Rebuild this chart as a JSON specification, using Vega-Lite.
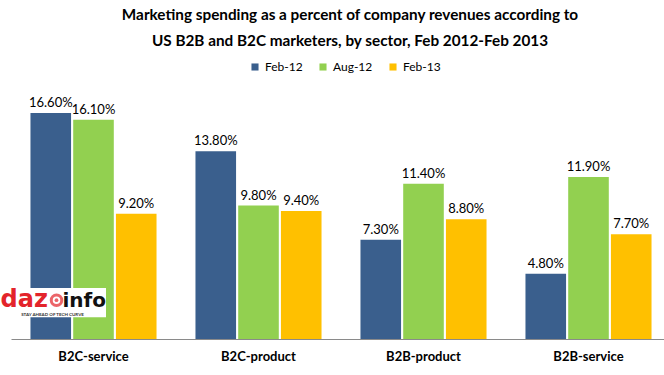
{
  "$schema": "https://vega.github.io/schema/vega-lite/v6.json",
  "autosize": {"type": "none"},
  "width": 660,
  "height": 245,
  "padding": {"left": 11, "top": 94, "right": 0, "bottom": 36},
  "background": "white",
  "config": {
    "view": {"stroke": null},
    "font": "Lato",
    "text": {"font": "Lato"}
  },
  "title": {
    "text": ["Marketing spending as a percent of company revenues according to", "US B2B and B2C marketers, by sector, Feb 2012-Feb 2013"],
    "font": "Lato",
    "fontSize": 15.3,
    "fontWeight": "bold",
    "color": "#000000",
    "anchor": "middle",
    "frame": "group",
    "dx": 9,
    "lineHeight": 26,
    "offset": 12
  },
  "data": {
    "values": [
      {"sector": "B2C-service", "period": "Feb-12", "value": 0.166},
      {"sector": "B2C-service", "period": "Aug-12", "value": 0.161},
      {"sector": "B2C-service", "period": "Feb-13", "value": 0.092},
      {"sector": "B2C-product", "period": "Feb-12", "value": 0.138},
      {"sector": "B2C-product", "period": "Aug-12", "value": 0.098},
      {"sector": "B2C-product", "period": "Feb-13", "value": 0.094},
      {"sector": "B2B-product", "period": "Feb-12", "value": 0.073},
      {"sector": "B2B-product", "period": "Aug-12", "value": 0.114},
      {"sector": "B2B-product", "period": "Feb-13", "value": 0.088},
      {"sector": "B2B-service", "period": "Feb-12", "value": 0.048},
      {"sector": "B2B-service", "period": "Aug-12", "value": 0.119},
      {"sector": "B2B-service", "period": "Feb-13", "value": 0.077}
    ]
  },
  "layer": [
    {
      "mark": {"type": "bar"},
      "encoding": {
        "x": {
          "field": "sector", "type": "nominal",
          "sort": ["B2C-service", "B2C-product", "B2B-product", "B2B-service"],
          "scale": {"paddingInner": 0.236, "paddingOuter": 0.118},
          "axis": {
            "title": null, "labelAngle": 0, "ticks": false,
            "domainColor": "#8a8a8a", "domainWidth": 1,
            "labelFont": "Lato", "labelFontSize": 13, "labelFontWeight": "bold",
            "labelColor": "#000000", "labelPadding": 11
          }
        },
        "xOffset": {
          "field": "period", "type": "nominal",
          "sort": ["Feb-12", "Aug-12", "Feb-13"],
          "scale": {"paddingInner": 0.05}
        },
        "y": {
          "field": "value", "type": "quantitative",
          "scale": {"domain": [0, 0.18]},
          "axis": null
        },
        "color": {
          "field": "period", "type": "nominal",
          "sort": ["Feb-12", "Aug-12", "Feb-13"],
          "scale": {"domain": ["Feb-12", "Aug-12", "Feb-13"], "range": ["#3A5F8D", "#92D050", "#FFC000"]},
          "legend": {
            "title": null, "orient": "none", "direction": "horizontal",
            "legendX": 238, "legendY": -33,
            "symbolType": "square", "symbolSize": 50, "symbolStrokeWidth": 0,
            "labelFont": "Lato", "labelFontSize": 12, "labelColor": "#000000",
            "columnPadding": 14, "labelOffset": 4
          }
        }
      }
    },
    {
      "mark": {"type": "text", "baseline": "bottom", "dy": -3, "fontSize": 13, "font": "Lato", "color": "#000000"},
      "encoding": {
        "x": {"field": "sector", "type": "nominal", "sort": ["B2C-service", "B2C-product", "B2B-product", "B2B-service"]},
        "xOffset": {"field": "period", "type": "nominal", "sort": ["Feb-12", "Aug-12", "Feb-13"]},
        "y": {"field": "value", "type": "quantitative"},
        "text": {"field": "value", "type": "quantitative", "format": ".2%"}
      }
    },
    {
      "data": {"values": [{"logo": "dazinfo"}]},
      "mark": {"type": "bar", "color": "#ffffff", "width": 106, "xOffset": -40.5},
      "encoding": {
        "x": {"datum": "B2C-service"},
        "y": {"datum": 0.0375},
        "y2": {"datum": 0.016}
      }
    },
    {
      "data": {"values": [{"part": "daz"}]},
      "mark": {"type": "text", "align": "left", "baseline": "alphabetic", "font": "DejaVu Sans", "fontWeight": "bold", "fontSize": 24, "color": "#E3242B", "dx": -93},
      "encoding": {
        "x": {"datum": "B2C-service"},
        "y": {"datum": 0.0235},
        "text": {"field": "part"}
      }
    },
    {
      "data": {"values": [{"part": "target"}]},
      "mark": {"type": "point", "shape": "circle", "filled": false, "stroke": "#E3242B", "strokeWidth": 3, "size": 110, "xOffset": -37},
      "encoding": {
        "x": {"datum": "B2C-service"},
        "y": {"datum": 0.0285}
      }
    },
    {
      "data": {"values": [{"part": "target"}]},
      "mark": {"type": "point", "shape": "circle", "filled": true, "color": "#E3242B", "size": 14, "xOffset": -37},
      "encoding": {
        "x": {"datum": "B2C-service"},
        "y": {"datum": 0.0285}
      }
    },
    {
      "data": {"values": [{"part": "info"}]},
      "mark": {"type": "text", "align": "left", "baseline": "alphabetic", "font": "DejaVu Sans", "fontWeight": "bold", "fontSize": 20, "color": "#111111", "dx": -31},
      "encoding": {
        "x": {"datum": "B2C-service"},
        "y": {"datum": 0.0235},
        "text": {"field": "part"}
      }
    },
    {
      "data": {"values": [{"part": "STAY AHEAD OF TECH CURVE"}]},
      "mark": {"type": "text", "align": "center", "baseline": "middle", "font": "Lato", "fontWeight": "bold", "fontSize": 4.5, "color": "#333333", "dx": -41},
      "encoding": {
        "x": {"datum": "B2C-service"},
        "y": {"datum": 0.0178},
        "text": {"field": "part"}
      }
    }
  ]
}
